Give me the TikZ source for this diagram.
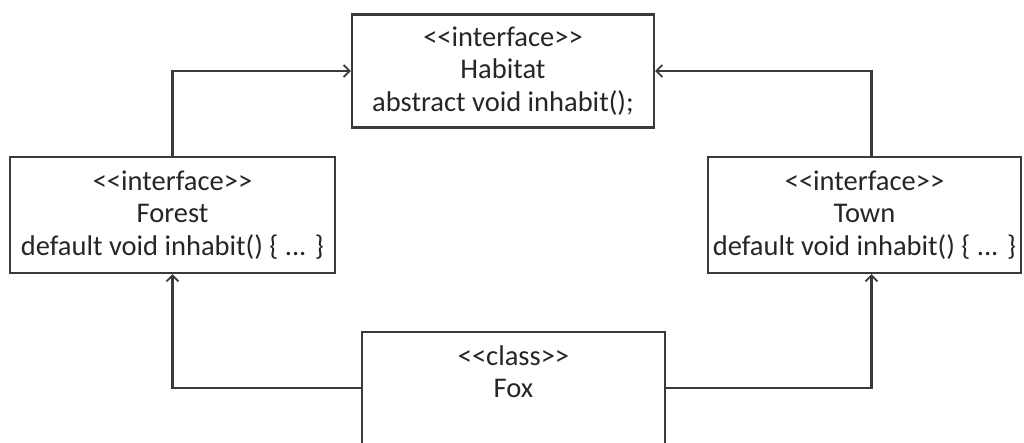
\documentclass[tikz,border=0pt]{standalone}
\usepackage{fontspec}
\setmainfont{Carlito}
\usetikzlibrary{arrows.meta}
\newcommand\dlt{<\kern0pt<}
\newcommand\dgt{>\kern0pt>}
\definecolor{linec}{HTML}{3A3A3A}
\definecolor{textc}{HTML}{262626}
\begin{document}
\begin{tikzpicture}[x=1pt,y=-1pt,
  box/.style={draw=linec, line width=2.2pt, fill=white, rectangle, align=center,
    text=textc, font=\fontsize{28.5}{32.5}\selectfont, inner sep=0pt},
  arr/.style={draw=linec, line width=2.2pt, -{Straight Barb[length=6pt,width=12pt,line width=1.8pt]}}]
\useasboundingbox (0,0) rectangle (1024,442);
\clip (0,0) rectangle (1024,442);
\fill[white] (0,0) rectangle (1024,442);
\node[box, minimum width=302pt, minimum height=113pt] (habitat) at (503,71)
  {\dlt interface\dgt\\Habitat\\abstract void inhabit();};
\node[box, minimum width=325pt, minimum height=116pt] (forest) at (172.5,215)
  {\dlt interface\dgt\\Forest\\default void inhabit() \{ ... \}};
\node[box, minimum width=313pt, minimum height=116pt] (town) at (864.5,215)
  {\dlt interface\dgt\\Town\\default void inhabit() \{ ... \}};
\node[box, minimum width=303pt, minimum height=112pt] (fox) at (513.5,388)
  {\dlt class\dgt\\Fox\\\mbox{}};
\coordinate (townup) at ([xshift=7pt]town.north);
\coordinate (towndown) at ([xshift=7pt]town.south);
\draw[arr] (forest.north) |- (habitat.west);
\draw[arr] (townup) |- (habitat.east);
\draw[arr] (fox.west) -| (forest.south);
\draw[arr] (fox.east) -| (towndown);
\end{tikzpicture}
\end{document}
